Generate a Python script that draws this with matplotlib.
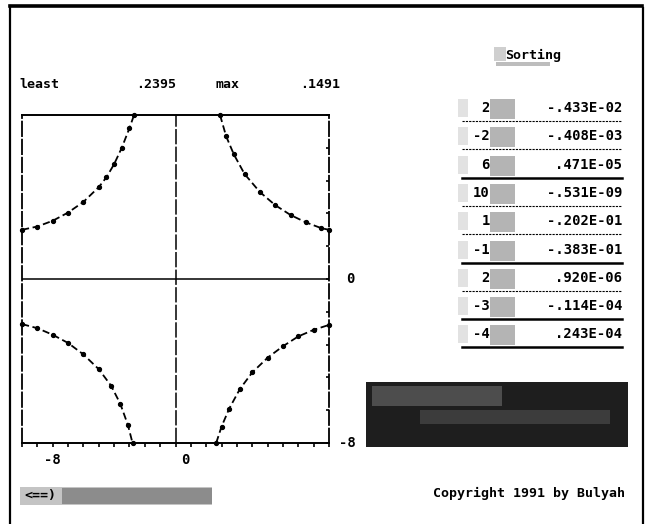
import matplotlib
matplotlib.use('Agg')
import matplotlib.pyplot as plt
from matplotlib.patches import Rectangle

# ---------------- data ----------------
ul_x = [-10, -9, -8, -7, -6, -5, -4.5, -4, -3.5, -3, -2.7]
ul_y = [3.0, 3.2, 3.55, 4.05, 4.7, 5.6, 6.2, 7.0, 8.0, 9.2, 10]
ur_x = [2.9, 3.3, 3.8, 4.5, 5.5, 6.5, 7.5, 8.5, 9.5, 10]
ur_y = [10, 8.7, 7.6, 6.4, 5.3, 4.5, 3.9, 3.45, 3.1, 3.0]
ll_x = [-10, -9, -8, -7, -6, -5, -4.2, -3.6, -3.1, -2.8]
ll_y = [-2.75, -3.0, -3.4, -3.9, -4.6, -5.5, -6.5, -7.6, -8.9, -10]
lr_x = [2.65, 3.0, 3.5, 4.2, 5.0, 6.0, 7.0, 8.0, 9.0, 10]
lr_y = [-10, -9.0, -7.9, -6.7, -5.7, -4.8, -4.1, -3.5, -3.1, -2.8]

stat_labels = ["least", "max"]
stat_values = [".2395", ".1491"]
sort_keys = ["2", "-2", "6", "10", "1", "-1", "2", "-3", "-4"]
sort_values = ["-.433E-02", "-.408E-03", ".471E-05", "-.531E-09",
               "-.202E-01", "-.383E-01", ".920E-06", "-.114E-04", ".243E-04"]
x_tick_labels = ["-8", "0"]
y_tick_labels = ["0", "-8"]

FONT = dict(family="DejaVu Sans Mono", fontweight="bold", color="black")

fig = plt.figure(figsize=(6.5, 5.24), dpi=100)
fig.patch.set_facecolor("white")

# ---------------- plot axes ----------------
W, H = 650, 524
ax = fig.add_axes([22 / W, (H - 443) / H, 307 / W, 328 / H])
ax.set_xlim(-10, 10)
ax.set_ylim(-10, 10)
for xs, ys in [(ul_x, ul_y), (ur_x, ur_y), (ll_x, ll_y), (lr_x, lr_y)]:
    ax.plot(xs, ys, color="black", lw=1.3, ls=(0, (4, 2)), marker="o",
            ms=2.8, clip_on=False)
ax.axhline(0, color="black", lw=1.1)
ax.axvline(0, color="black", lw=1.1, ls=(0, (10, 1.5)))
for s in ["top", "bottom"]:
    ax.spines[s].set_linewidth(1.4)
for s in ["left", "right"]:
    ax.spines[s].set_linewidth(1.3)
    ax.spines[s].set_linestyle((0, (8, 2)))
ax.set_xticks(range(-10, 11))
ax.set_yticks(range(-10, 11, 2))
ax.tick_params(axis="x", direction="out", length=3, width=1.2,
               labelbottom=False)
ax.tick_params(axis="y", direction="in", length=2, width=1.2, left=False,
               right=True, labelleft=False)
ax.text(-8, -10.6, x_tick_labels[0], ha="center", va="top", fontsize=10, **FONT)
ax.text(0.65, -10.6, x_tick_labels[1], ha="center", va="top", fontsize=10, **FONT)
ax.text(11.4, 0, y_tick_labels[0], ha="center", va="center", fontsize=10, **FONT)
ax.text(11.2, -10, y_tick_labels[1], ha="center", va="center", fontsize=10, **FONT)

# ---------------- overlay (screen decorations) ----------------
ov = fig.add_axes([0, 0, 1, 1])
ov.set_xlim(0, W)
ov.set_ylim(H, 0)
ov.axis("off")
ov.patch.set_alpha(0)

# outer frame
ov.plot([10, 642], [6, 6], color="black", lw=2.6)
ov.plot([10, 10], [6, 524], color="black", lw=1.6)
ov.plot([643, 643], [8, 524], color="black", lw=1.6)

# statistics line
ov.text(19, 85, stat_labels[0], ha="left", va="center", fontsize=9.5, **FONT)
ov.text(136, 85, stat_values[0], ha="left", va="center", fontsize=9.5, **FONT)
ov.text(216, 85, stat_labels[1], ha="left", va="center", fontsize=9.5, **FONT)
ov.text(300, 85, stat_values[1], ha="left", va="center", fontsize=9.5, **FONT)

# sorting header
ov.add_patch(Rectangle((494, 47), 12, 14, color="#cfcfcf", lw=0))
ov.add_patch(Rectangle((496, 62), 54, 4, color="#bdbdbd", lw=0))
ov.text(505, 55, "Sorting", ha="left", va="center", fontsize=9.5, **FONT)

# sorting table
row_y0, row_dy = 108, 28.3
line_w = [0.8, 0.8, 1.8, 0.8, 0.8, 1.8, 0.8, 1.8, 1.8]
for i, (k, v) in enumerate(zip(sort_keys, sort_values)):
    y = row_y0 + i * row_dy
    ov.add_patch(Rectangle((458, y - 9), 10, 18, color="#e2e2e2", lw=0))
    ov.add_patch(Rectangle((490, y - 9), 25, 20, color="#b4b4b4", lw=0))
    ov.text(490, y, k, ha="right", va="center", fontsize=10, **FONT)
    ov.text(622, y, v, ha="right", va="center", fontsize=10, **FONT)
    ls = "-" if line_w[i] > 1 else (0, (2, 1))
    ov.plot([462, 622], [y + 13, y + 13], color="black", lw=line_w[i], ls=ls)

# dark message box
ov.add_patch(Rectangle((366, 382), 262, 65, color="#1e1e1e", lw=0))
ov.add_patch(Rectangle((372, 386), 130, 20, color="#5a5a5a", lw=0, alpha=0.8))
ov.add_patch(Rectangle((420, 410), 190, 14, color="#444444", lw=0, alpha=0.8))

# back button
ov.add_patch(Rectangle((20, 487), 192, 18, color="#c4c4c4", lw=0))
ov.add_patch(Rectangle((62, 488), 150, 16, color="#8c8c8c", lw=0))
ov.text(24, 496, "<==)", ha="left", va="center", fontsize=9.5, **FONT)

# copyright
ov.text(625, 493, "Copyright 1991 by Bulyah", ha="right", va="center",
        fontsize=9.5, **FONT)

fig.savefig("out.png", dpi=100, facecolor="white")
